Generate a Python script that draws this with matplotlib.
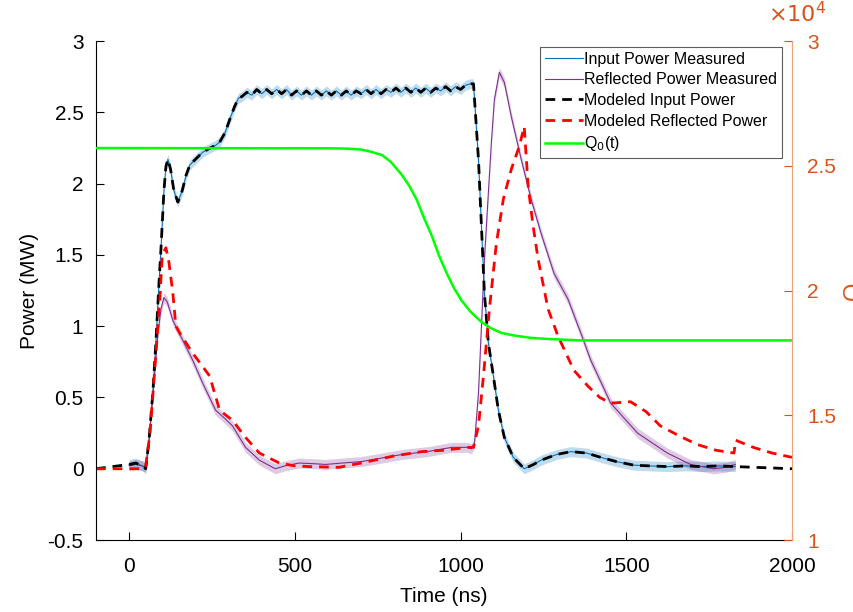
import numpy as np
import matplotlib.pyplot as plt

plt.rcParams['font.family'] = ['Liberation Sans', 'DejaVu Sans']

# measured input power (MW)
t_in = [0, 20, 40, 50, 60, 72, 81, 90, 96, 105, 111, 117, 125, 135, 147, 160, 172, 183,
        200, 222, 245, 262, 273, 290, 305, 318, 330,
        340, 355, 370, 385, 400, 415, 430, 445, 460, 475, 490, 505, 520, 535, 550, 565,
        580, 595, 610, 625, 640, 655, 670, 685, 700, 715, 730, 745, 760, 775, 790, 805,
        820, 835, 850, 865, 880, 895, 910, 925, 940, 955, 970, 985, 1000, 1015, 1030,
        1039, 1054, 1063, 1072, 1084, 1099, 1114, 1132, 1159, 1192, 1220, 1243, 1290,
        1333, 1380, 1423, 1470, 1523, 1570, 1624, 1680, 1724, 1780, 1829]
p_in = [0.03, 0.04, 0.02, 0.0, 0.2, 0.55, 0.9, 1.3, 1.54, 1.95, 2.12, 2.17, 2.1, 1.95,
        1.87, 1.95, 2.06, 2.13, 2.17, 2.22, 2.25, 2.27, 2.29, 2.36, 2.46, 2.54, 2.6,
        2.61, 2.64, 2.62, 2.66, 2.63, 2.66, 2.63, 2.66, 2.63, 2.66, 2.62, 2.65, 2.62,
        2.65, 2.62, 2.65, 2.62, 2.65, 2.62, 2.65, 2.62, 2.65, 2.62, 2.65, 2.63, 2.66,
        2.63, 2.66, 2.63, 2.66, 2.64, 2.67, 2.64, 2.67, 2.64, 2.67, 2.64, 2.67, 2.64,
        2.67, 2.65, 2.68, 2.65, 2.68, 2.66, 2.69, 2.70,
        2.70, 2.17, 1.70, 1.23, 0.88, 0.65, 0.41, 0.22, 0.08, 0.0, 0.03, 0.06, 0.10,
        0.12, 0.11, 0.08, 0.05, 0.025, 0.02, 0.015, 0.02, 0.015, 0.02, 0.015]

# measured reflected power (MW)
t_ref = [0, 20, 40, 50, 60, 72, 87, 96, 105, 115, 132, 147, 162, 192, 222, 261, 290, 312,
         351, 393, 441, 470, 513, 560, 592, 643, 700, 750, 823, 900, 973, 1020, 1033,
         1042, 1054, 1063, 1072, 1084, 1093, 1102, 1117, 1132, 1153, 1183, 1213, 1243,
         1282, 1324, 1363, 1393, 1453, 1534, 1624, 1694, 1763, 1800, 1829]
p_ref = [0.02, 0.03, 0.02, 0.01, 0.2, 0.53, 0.95, 1.12, 1.2, 1.17, 1.04, 0.97, 0.9, 0.76,
         0.6, 0.41, 0.35, 0.3, 0.15, 0.06, 0.0, 0.02, 0.04, 0.035, 0.03, 0.04, 0.05, 0.07,
         0.1, 0.12, 0.15, 0.15, 0.14, 0.18, 0.53, 1.0, 1.47, 1.94, 2.29, 2.59, 2.78, 2.71,
         2.47, 2.17, 1.89, 1.65, 1.37, 1.19, 0.95, 0.76, 0.46, 0.25, 0.11, 0.03, 0.0,
         0.01, 0.03]

# modeled reflected power (MW)
t_mr = [-100, 40, 50, 63, 78, 93, 100, 111, 120, 132, 141, 153, 192, 243, 273, 312, 351,
        393, 453, 500, 543, 633, 700, 800, 883, 950, 1024, 1039, 1054, 1069, 1087, 1108,
        1129, 1153, 1177, 1192, 1204, 1219, 1234, 1264, 1294, 1342, 1384, 1420, 1453,
        1513, 1560, 1603, 1660, 1714, 1770, 1825, 1830, 1883, 1940, 2000]
p_mr = [0, 0, 0.02, 0.25, 0.72, 1.2, 1.5, 1.55, 1.45, 1.23, 1.0, 0.95, 0.81, 0.65, 0.41,
        0.34, 0.22, 0.11, 0.04, 0.02, 0.015, 0.01, 0.04, 0.09, 0.12, 0.13, 0.15, 0.15,
        0.3, 0.65, 1.12, 1.58, 1.89, 2.1, 2.26, 2.40, 1.98, 1.70, 1.47, 1.12, 0.93, 0.69,
        0.58, 0.5, 0.46, 0.47, 0.4, 0.3, 0.23, 0.17, 0.13, 0.11, 0.2, 0.15, 0.11, 0.08]

# quality factor Q0(t)
t_q = [-100, 600, 650, 700, 730, 763, 790, 823, 845, 868, 890, 913, 935, 958, 980, 1003,
       1030, 1063, 1090, 1123, 1160, 1213, 1260, 1363, 2000]
q0 = [25710, 25700, 25690, 25650, 25560, 25430, 25150, 24630, 24200, 23630, 22900, 22200,
      21400, 20700, 20100, 19600, 19150, 18740, 18500, 18300, 18200, 18100, 18060, 18000,
      18000]

left_ticks = [-0.5, 0, 0.5, 1, 1.5, 2, 2.5, 3]
left_labels = ['-0.5', '0', '0.5', '1', '1.5', '2', '2.5', '3']
right_ticks = [10000, 15000, 20000, 25000, 30000]
right_labels = ['1', '1.5', '2', '2.5', '3']

band = 0.035
blue = '#0072BD'
purple = '#7E2F8E'
orange = '#D95319'

# modeled input follows the measured input, zero outside the pulse window
t_mi = [-100] + t_in + [2000]
p_mi = [0] + p_in + [0]

fig = plt.figure(figsize=(8.54, 6.12), dpi=100)
ax = fig.add_axes([0.1124, 0.1176, 0.815, 0.8154])

ax.fill_between(t_in, np.array(p_in) - band, np.array(p_in) + band, color=blue, alpha=0.25, lw=0)
ax.fill_between(t_ref, np.array(p_ref) - band, np.array(p_ref) + band, color=purple, alpha=0.25, lw=0)
l1, = ax.plot(t_in, p_in, color=blue, lw=0.8, label='Input Power Measured')
l2, = ax.plot(t_ref, p_ref, color=purple, lw=0.8, label='Reflected Power Measured')
l3, = ax.plot(t_mi, p_mi, '--', color='k', lw=2, dashes=(3.5, 2.5), label='Modeled Input Power')
l4, = ax.plot(t_mr, p_mr, '--', color='r', lw=2, dashes=(3.5, 2.5), label='Modeled Reflected Power')

ax.set_xlim(-100, 2000)
ax.set_ylim(-0.5, 3)
ax.set_xticks([0, 500, 1000, 1500, 2000])
ax.set_yticks(left_ticks)
ax.set_yticklabels(left_labels)
ax.tick_params(direction='in', labelsize=15, length=6, width=0.8)
ax.tick_params(axis='x', pad=12)
ax.tick_params(axis='y', pad=9)
ax.set_xlabel('Time (ns)', fontsize=15, labelpad=8)
ax.set_ylabel('Power (MW)', fontsize=15, labelpad=6)
ax.spines['top'].set_visible(False)
ax.spines['right'].set_visible(False)

ax2 = ax.twinx()
l5, = ax2.plot(t_q, q0, color='#00FF00', lw=1.8, label='Q$_0$(t)')
ax2.set_ylim(10000, 30000)
ax2.set_yticks(right_ticks)
ax2.set_yticklabels(right_labels)
ax2.tick_params(direction='in', labelsize=15, length=6, width=0.8, colors=orange, pad=11)
ax2.spines['right'].set_color('#F0A080')
ax2.spines['top'].set_visible(False)
ax2.spines['left'].set_visible(False)
ax2.spines['bottom'].set_visible(False)
ax2.set_ylabel('Q', fontsize=17, color=orange, rotation=90, labelpad=5)
ax2.text(0.966, 1.028, r'$\times 10^{4}$', transform=ax2.transAxes, fontsize=16,
         color=orange, ha='left', va='bottom')

leg = ax2.legend(handles=[l1, l2, l3, l4, l5], loc='upper right',
                 bbox_to_anchor=(0.986, 0.988), fontsize=11.5, frameon=True,
                 fancybox=False, edgecolor='#333333', handlelength=2.4,
                 handletextpad=0.1, borderpad=0.3, labelspacing=0.35, borderaxespad=0)
leg.get_frame().set_linewidth(0.8)

fig.savefig('out.png', dpi=100)
